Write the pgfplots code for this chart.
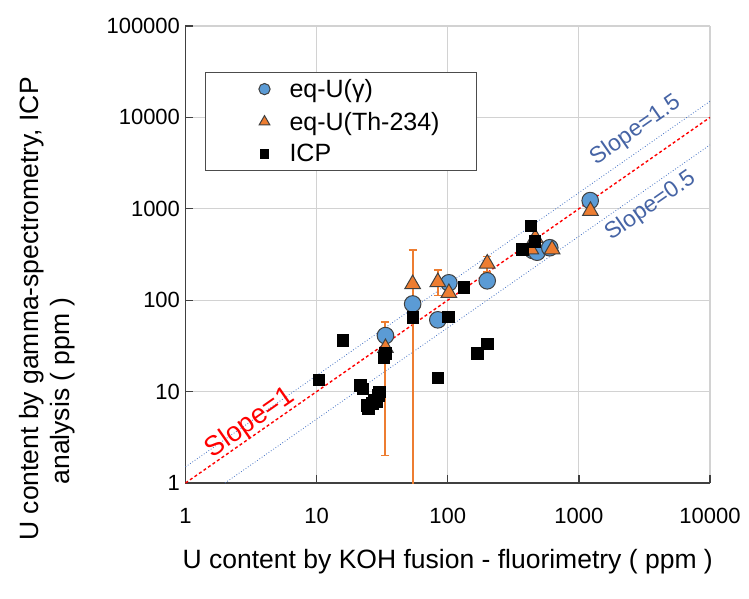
\documentclass[border=0pt]{standalone}
\usepackage{fontspec}
\setmainfont{Liberation Sans}
\usepackage{pgfplots}
\pgfplotsset{compat=1.18}
\definecolor{ublue}{RGB}{91,155,213}
\definecolor{uorange}{RGB}{237,125,49}
\definecolor{lineblue}{RGB}{68,114,196}
\definecolor{labblue}{RGB}{70,100,165}
\definecolor{gridgray}{RGB}{210,210,210}

\pgfplotstableread{
x y
33.5 41
54 91
84 61
102 155
200 163
445 350
480 335
600 375
1220 1230
}\gammadata

\pgfplotstableread{
x y
33.5 30
54 150
84 158
102 120
200 252
430 360
465 480
625 360
1225 950
}\thdata

% triangles that carry error bars
\pgfplotstableread{
x y ep em
33.5 30 28 28
54 150 205 149.5
84 158 57 45
200 252 48 48
}\therr

\pgfplotstableread{
x y
10.4 13.5
15.8 36.5
21.5 11.8
22.5 10.8
24.2 7.1
24.8 6.5
26.5 7.5
27.5 8.1
28.5 7.8
29.5 9.2
30.0 10.0
32.5 23.5
33.5 26.5
54 65
84 14.2
101 66
132 138
168 26.5
200 33.5
370 360
428 650
460 440
}\icpdata

\begin{document}
\begin{tikzpicture}
\path[use as bounding box] (-185.5pt,-116pt) rectangle (563.5pt,483pt);
\begin{axis}[
    scale only axis,
    width=524.5pt, height=457pt,
    xmode=log, ymode=log,
    xmin=1, xmax=10000, ymin=1, ymax=100000,
    xtick={1,10,100,1000,10000},
    ytick={1,10,100,1000,10000,100000},
    xticklabels={1,10,100,1000,10000},
    yticklabels={1,10,100,1000,10000,100000},
    minor tick style={draw=none},
    grid=major,
    major grid style={gridgray, line width=1.2pt},
    axis lines*=left,
    axis line style={-, black!75, line width=1.3pt},
    tick align=inside,
    major tick length=8pt,
    tick style={black!75, line width=1.3pt},
    tick label style={font=\fontsize{22}{22}\selectfont},
    xticklabel style={yshift=-22pt},
    yticklabel style={xshift=-2pt},
    label style={font=\fontsize{26.5}{31}\selectfont},
    xlabel={U content by KOH fusion - fluorimetry ( ppm )},
    xlabel style={at={(axis description cs:0.5,-0.173)}, anchor=center},
    ylabel={U content by gamma-spectrometry, ICP\\analysis ( ppm )\hspace*{164pt}},
    ylabel style={at={(axis description cs:-0.263,0.381)}, anchor=center, align=center},
    legend image code/.code={%
        \path[draw=none] (-56pt,0pt) (23pt,0pt);
        \draw[#1, /tikz/every mark/.append style={scale=0.68}] plot coordinates {(0pt,0pt)};},
    legend style={at={(0.037,0.9)}, anchor=north west, draw=black!70,
        line width=1.2pt, font=\fontsize{25}{25}\selectfont,
        inner xsep=3pt, inner ysep=5pt, row sep=9pt},
    legend cell align=left,
    clip=true,
]
\addplot[red, line width=1.4pt, dash pattern=on 3pt off 2.5pt, forget plot]
    coordinates {(1,1) (10000,10000)};
\addplot[lineblue, line width=0.8pt, dotted, forget plot]
    coordinates {(1,1.5) (10000,15000)};
\addplot[lineblue, line width=0.8pt, dotted, forget plot]
    coordinates {(2,1) (10000,5000)};

\addplot[only marks, mark=none, forget plot,
    error bars/.cd, y dir=both, y explicit,
    error bar style={uorange, line width=2pt},
    error mark options={uorange, line width=1.5pt, mark size=4pt, rotate=90}]
    table[x=x, y=y, y error plus=ep, y error minus=em] {\therr};

\addplot[only marks, mark=*, mark size=8.3pt,
    mark options={fill=ublue, draw=black!75, line width=1pt}]
    table[x=x, y=y] {\gammadata};
\addlegendentry{eq-U(γ)}
\addplot[only marks, mark=triangle*, mark size=9pt,
    mark options={fill=uorange, draw=black!75, line width=1pt}]
    table[x=x, y=y] {\thdata};
\addlegendentry{eq-U(Th-234)\hspace*{32pt}}
\addplot[only marks, mark=square*, mark size=5.8pt,
    mark options={fill=black, draw=black}]
    table[x=x, y=y] {\icpdata};
\addlegendentry{ICP}

\node[rotate=34.9, text=red, font=\fontsize{27.5}{27.5}\selectfont] at (axis cs:3.1,4.5) {Slope=1};
\node[rotate=34.9, text=labblue, font=\fontsize{23}{23}\selectfont] at (axis cs:2700,7200) {Slope=1.5};
\node[rotate=34.9, text=labblue, font=\fontsize{23}{23}\selectfont] at (axis cs:3514,1065) {Slope=0.5};
\end{axis}
\end{tikzpicture}
\end{document}
